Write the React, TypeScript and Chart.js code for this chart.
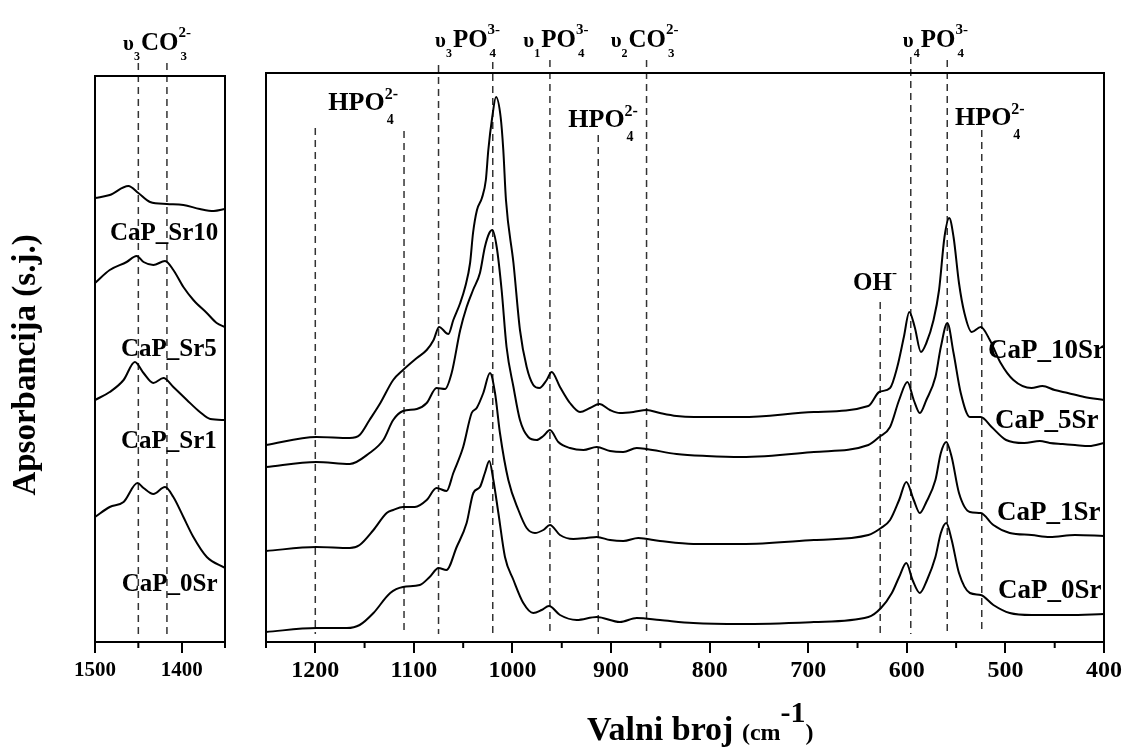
import { useEffect, useRef } from "react";
import { Chart, registerables } from "chart.js";

Chart.register(...registerables);

const FONT = '"Liberation Serif", "Times New Roman", serif';

// ---------- Right panel (1250–400 cm-1) ----------
const RIGHT_TICKS = [1200, 1100, 1000, 900, 800, 700, 600, 500, 400];
const RIGHT_MINOR = [1250, 1150, 1050, 950, 850, 750, 650, 550, 450];

const WN_10SR = [1250, 1199, 1165, 1155, 1145, 1134, 1121, 1111, 1097, 1087, 1080, 1074.5, 1065, 1060, 1053, 1048, 1043, 1040, 1036, 1031, 1027, 1024.5, 1020.5, 1016.7, 1012, 1009.3, 1006.6, 999, 992.4, 985.6, 978.9, 972.8, 965.3, 960.3, 951.8, 941.7, 931.5, 921.4, 911.9, 901.1, 891, 877.4, 863.9, 850.4, 833.5, 815.7, 767.9, 694.3, 639.1, 628, 617, 609.7, 603, 597.5, 592, 585.7, 580.2, 572.9, 567.3, 561.8, 557, 552.6, 547.1, 541.6, 534.2, 525, 515.8, 504.8, 491.9, 473.5, 462.5, 450, 436.7, 420, 400];
const ABS_10SR = [1.97, 2.05, 2.04, 2.07, 2.22, 2.39, 2.62, 2.72, 2.84, 2.92, 3.02, 3.15, 3.08, 3.22, 3.39, 3.55, 3.79, 4.09, 4.32, 4.44, 4.62, 4.92, 5.25, 5.45, 5.25, 4.92, 4.42, 3.79, 3.12, 2.75, 2.57, 2.54, 2.62, 2.70, 2.55, 2.39, 2.30, 2.34, 2.38, 2.32, 2.29, 2.30, 2.32, 2.29, 2.26, 2.25, 2.25, 2.30, 2.36, 2.50, 2.54, 2.75, 3.05, 3.30, 3.15, 2.90, 2.99, 3.22, 3.52, 4.05, 4.24, 4.05, 3.59, 3.29, 3.10, 3.15, 3.02, 2.79, 2.62, 2.54, 2.56, 2.52, 2.49, 2.45, 2.42];

const WN_5SR = [1250, 1199, 1165, 1145, 1131, 1121, 1111, 1097, 1087, 1077, 1068.4, 1061.7, 1053, 1046.5, 1040, 1033, 1028, 1023.5, 1020.4, 1016, 1011, 1006, 999, 992.4, 984, 975.5, 968.7, 962, 953.5, 941.7, 928, 914.6, 901, 887.6, 874, 864, 833.5, 803, 768, 694.3, 639, 628, 617, 607.8, 599.4, 593, 586.8, 580.2, 571, 565.5, 558.9, 552.6, 545.3, 536, 525, 514, 499.3, 481, 465, 455, 442, 429.4, 415, 400];
const ABS_5SR = [1.75, 1.80, 1.78, 1.89, 2.02, 2.22, 2.31, 2.33, 2.39, 2.54, 2.53, 2.69, 3.12, 3.35, 3.52, 3.69, 3.95, 4.09, 4.12, 3.95, 3.52, 2.95, 2.55, 2.22, 2.05, 2.02, 2.06, 2.12, 2.00, 1.94, 1.92, 1.95, 1.91, 1.90, 1.94, 1.93, 1.88, 1.86, 1.85, 1.90, 1.97, 2.05, 2.15, 2.42, 2.60, 2.42, 2.29, 2.42, 2.65, 2.95, 3.19, 2.89, 2.49, 2.25, 2.25, 2.15, 2.02, 1.99, 2.01, 1.99, 1.98, 1.97, 1.96, 1.99];

const WN_1SR = [1250, 1199, 1165, 1155, 1141, 1127.6, 1121, 1111, 1099, 1087, 1077, 1066.8, 1060, 1050, 1041.4, 1036.3, 1029.6, 1022.8, 1017.7, 1012.7, 1004.2, 994, 985.6, 977.2, 968.7, 962, 951.8, 938.3, 924.8, 914.6, 901, 887.6, 872.4, 850.4, 816.6, 768, 694.3, 639, 626.2, 617, 607.8, 600.5, 593, 586.8, 580.2, 571, 565.5, 560, 554.5, 547.1, 536, 525, 512.2, 495.6, 473.5, 455, 429.4, 400];
const ABS_1SR = [0.91, 0.95, 0.94, 0.97, 1.12, 1.29, 1.32, 1.35, 1.35, 1.42, 1.54, 1.51, 1.69, 1.95, 2.29, 2.34, 2.49, 2.69, 2.49, 2.09, 1.62, 1.32, 1.14, 1.09, 1.12, 1.17, 1.07, 1.03, 1.04, 1.05, 1.02, 1.01, 1.04, 1.01, 0.98, 0.98, 1.02, 1.07, 1.14, 1.22, 1.42, 1.60, 1.42, 1.29, 1.40, 1.62, 1.89, 2.00, 1.85, 1.49, 1.30, 1.29, 1.17, 1.09, 1.07, 1.05, 1.07, 1.06];

const WN_0SR = [1250, 1199, 1168, 1155, 1141, 1124, 1111, 1094, 1084, 1075, 1067, 1056.6, 1046.5, 1039.7, 1033, 1028, 1023.5, 1019.4, 1014.3, 1007.6, 999, 989, 978.9, 970.4, 963, 951.8, 934.9, 914.6, 891, 874, 850.4, 816.6, 768, 694.3, 639, 626.2, 615.2, 607.8, 600.5, 594.2, 586.8, 579.5, 571, 565.5, 560, 554.5, 547.1, 536, 525, 512.2, 495.6, 473.5, 436.7, 400];
const ABS_0SR = [0.10, 0.14, 0.14, 0.17, 0.29, 0.49, 0.55, 0.57, 0.65, 0.74, 0.72, 0.95, 1.19, 1.49, 1.55, 1.69, 1.81, 1.62, 1.29, 0.85, 0.62, 0.39, 0.29, 0.32, 0.36, 0.27, 0.22, 0.25, 0.20, 0.24, 0.22, 0.19, 0.18, 0.20, 0.25, 0.34, 0.49, 0.65, 0.79, 0.62, 0.49, 0.62, 0.85, 1.09, 1.19, 1.02, 0.69, 0.49, 0.47, 0.37, 0.29, 0.27, 0.27, 0.28];

const RIGHT_SERIES_NAMES = ["CaP_10Sr", "CaP_5Sr", "CaP_1Sr", "CaP_0Sr"];

// dashed band markers (wavenumber, top of line in absorbance units)
const RIGHT_MARKER_WN = [1200, 1110, 1075, 1020, 962, 913, 864, 627, 596, 559, 524];
const RIGHT_MARKER_TOP = [5.14, 5.11, 5.77, 5.8, 5.82, 5.07, 5.82, 3.4, 5.85, 5.82, 5.12];
const MARKER_BOTTOM = 0.08;

// ---------- Left panel (1500–1350 cm-1) ----------
const LEFT_TICKS = [1500, 1400];
const LEFT_MINOR = [1450, 1350];

const WN_L_SR10 = [1500, 1483, 1461.5, 1450, 1436.5, 1417, 1398, 1379, 1363, 1350];
const ABS_L_SR10 = [4.44, 4.47, 4.56, 4.49, 4.40, 4.38, 4.37, 4.33, 4.31, 4.33];
const WN_L_SR5 = [1500, 1483, 1463.5, 1452, 1444, 1432.7, 1419.2, 1409.6, 1398, 1386.5, 1371, 1359.6, 1350];
const ABS_L_SR5 = [3.59, 3.72, 3.80, 3.86, 3.80, 3.77, 3.81, 3.72, 3.55, 3.42, 3.29, 3.19, 3.15];
const WN_L_SR1 = [1500, 1483, 1467, 1454, 1444, 1432.7, 1421, 1409.6, 1394, 1379, 1367, 1350];
const ABS_L_SR1 = [2.42, 2.50, 2.62, 2.80, 2.69, 2.59, 2.64, 2.55, 2.42, 2.30, 2.23, 2.22];
const WN_L_0SR = [1500, 1483, 1467, 1451, 1444, 1432.7, 1419.2, 1409.6, 1398, 1386.5, 1371, 1350];
const ABS_L_0SR = [1.25, 1.35, 1.40, 1.59, 1.54, 1.48, 1.55, 1.45, 1.25, 1.05, 0.85, 0.74];

const LEFT_SERIES_NAMES = ["CaP_Sr10", "CaP_Sr5", "CaP_Sr1", "CaP_0Sr"];
const LEFT_MARKER_WN = [1450, 1417];
const LEFT_MARKER_TOP = [5.79, 5.79];
const LEFT_MARKER_BOTTOM = 0.05;

// ---------- annotation layout (data units) ----------
type Chem = { pre?: string; preSub?: string; main: string; sup?: string; sub?: string; wn: number; y: number; big?: boolean };

const RIGHT_CHEM: Chem[] = [
  { main: "HPO", sup: "2-", sub: "4", wn: 1186.8, y: 5.32, big: true },
  { pre: "υ", preSub: "3", main: "PO", sup: "3-", sub: "4", wn: 1078.6, y: 5.953 },
  { pre: "υ", preSub: "1", main: "PO", sup: "3-", sub: "4", wn: 989, y: 5.953 },
  { pre: "υ", preSub: "2", main: "CO", sup: "2-", sub: "3", wn: 900.4, y: 5.953 },
  { main: "HPO", sup: "2-", sub: "4", wn: 943.4, y: 5.153, big: true },
  { pre: "υ", preSub: "4", main: "PO", sup: "3-", sub: "4", wn: 604.1, y: 5.953 },
  { main: "HPO", sup: "2-", sub: "4", wn: 551.1, y: 5.17, big: true },
  { main: "OH", sup: "-", wn: 654.6, y: 3.52 },
];
const RIGHT_NAME_WN = [517.6, 510.6, 508.5, 507.5];
const RIGHT_NAME_Y = [2.84, 2.14, 1.22, 0.44];

const LEFT_CHEM: Chem[] = [{ pre: "υ", preSub: "3", main: "CO", sup: "2-", sub: "3", wn: 1467.7, y: 5.92 }];
const LEFT_NAME_WN = [1482.7, 1470, 1470, 1469.2];
const LEFT_NAME_Y = [4.02, 2.863, 1.937, 0.513];

const f = (size: number) => `bold ${size}px ${FONT}`;

function drawChem(ctx: CanvasRenderingContext2D, x: number, y: number, c: Chem) {
  ctx.fillStyle = "#000";
  ctx.textAlign = "left";
  ctx.textBaseline = "alphabetic";
  let cx = x;
  if (c.pre) {
    ctx.font = f(21);
    ctx.fillText(c.pre, cx, y);
    cx += ctx.measureText(c.pre).width;
  }
  if (c.preSub) {
    ctx.font = f(12);
    ctx.fillText(c.preSub, cx, y + 10);
    cx += ctx.measureText(c.preSub).width + 1;
  }
  ctx.font = f(c.big ? 26 : 25);
  ctx.fillText(c.main, cx, y);
  cx += ctx.measureText(c.main).width;
  if (c.sup) {
    ctx.font = f(c.big ? 16 : 15);
    ctx.fillText(c.sup, cx, y - (c.big ? 11 : 13));
  }
  if (c.sub) {
    ctx.font = f(c.big ? 14 : 13);
    ctx.fillText(c.sub, cx + 2, y + (c.big ? 14 : 10));
  }
}

function drawMarkers(chart: any, wns: number[], tops: number[], bottom: number) {
  const { ctx, scales } = chart;
  const x = scales.x, y = scales.y;
  ctx.save();
  ctx.strokeStyle = "#333";
  ctx.lineWidth = 1.5;
  ctx.setLineDash([7, 5]);
  wns.forEach((w, i) => {
    const px = x.getPixelForValue(w);
    ctx.beginPath();
    ctx.moveTo(px, y.getPixelForValue(tops[i]));
    ctx.lineTo(px, y.getPixelForValue(bottom));
    ctx.stroke();
  });
  ctx.restore();
}

function drawFrameAndMinor(chart: any, minor: number[]) {
  const { ctx, chartArea: a, scales } = chart;
  ctx.save();
  ctx.strokeStyle = "#000";
  ctx.lineWidth = 2;
  ctx.setLineDash([]);
  ctx.strokeRect(a.left, a.top, a.right - a.left, a.bottom - a.top);
  minor.forEach((v) => {
    const px = scales.x.getPixelForValue(v);
    ctx.beginPath();
    ctx.moveTo(px, a.bottom);
    ctx.lineTo(px, a.bottom + 6);
    ctx.stroke();
  });
  ctx.restore();
}

function drawNames(chart: any, names: string[], wns: number[], ys: number[], size: number) {
  const { ctx, scales } = chart;
  ctx.save();
  ctx.fillStyle = "#000";
  ctx.font = f(size);
  ctx.textAlign = "left";
  ctx.textBaseline = "alphabetic";
  names.forEach((n, i) => ctx.fillText(n, scales.x.getPixelForValue(wns[i]), scales.y.getPixelForValue(ys[i])));
  ctx.restore();
}

const ds = (wn: number[], a: number[]) => ({
  data: wn.map((x, i) => ({ x, y: a[i] })),
  borderColor: "#000",
  borderWidth: 2,
  pointRadius: 0,
  fill: false,
  cubicInterpolationMode: "monotone" as const,
});

const xScale = (min: number, max: number, ticks: number[], size: number, pad: number) => ({
  type: "linear" as const,
  min,
  max,
  reverse: true,
  afterBuildTicks: (s: any) => {
    s.ticks = ticks.map((v) => ({ value: v }));
  },
  afterFit: (s: any) => {
    s.height = 105;
  },
  ticks: {
    font: { family: FONT, size, weight: "bold" as const },
    color: "#000",
    padding: pad,
    maxRotation: 0,
    autoSkip: false,
    callback: (v: any) => String(v),
  },
  grid: { display: true, drawOnChartArea: false, drawTicks: true, tickLength: 11, color: "#000", lineWidth: 2 },
  border: { display: true, color: "#000", width: 2 },
});

const leftPlugin = {
  id: "leftDecor",
  beforeDatasetsDraw(chart: any) {
    drawMarkers(chart, LEFT_MARKER_WN, LEFT_MARKER_TOP, LEFT_MARKER_BOTTOM);
  },
  afterDraw(chart: any) {
    drawFrameAndMinor(chart, LEFT_MINOR);
    const { ctx, scales } = chart;
    LEFT_CHEM.forEach((c) => drawChem(ctx, scales.x.getPixelForValue(c.wn), scales.y.getPixelForValue(c.y), c));
    drawNames(chart, LEFT_SERIES_NAMES, LEFT_NAME_WN, LEFT_NAME_Y, 25);
    // y-axis title
    ctx.save();
    ctx.translate(35, 365);
    ctx.rotate(-Math.PI / 2);
    ctx.fillStyle = "#000";
    ctx.font = f(33);
    ctx.textAlign = "center";
    ctx.textBaseline = "alphabetic";
    ctx.fillText("Apsorbancija (s.j.)", 0, 0);
    ctx.restore();
  },
};

const rightPlugin = {
  id: "rightDecor",
  beforeDatasetsDraw(chart: any) {
    drawMarkers(chart, RIGHT_MARKER_WN, RIGHT_MARKER_TOP, MARKER_BOTTOM);
  },
  afterDraw(chart: any) {
    drawFrameAndMinor(chart, RIGHT_MINOR);
    const { ctx, scales } = chart;
    RIGHT_CHEM.forEach((c) => drawChem(ctx, scales.x.getPixelForValue(c.wn), scales.y.getPixelForValue(c.y), c));
    drawNames(chart, RIGHT_SERIES_NAMES, RIGHT_NAME_WN, RIGHT_NAME_Y, 27);
    // x-axis title: Valni broj (cm^-1)
    ctx.save();
    ctx.fillStyle = "#000";
    ctx.textAlign = "left";
    ctx.textBaseline = "alphabetic";
    let x = 587;
    const base = 740;
    const seg = (t: string, size: number, dy: number) => {
      ctx.font = f(size);
      ctx.fillText(t, x, base + dy);
      x += ctx.measureText(t).width;
    };
    seg("Valni broj ", 34, 0);
    seg("(cm", 24, 0);
    seg("-1", 30, -18);
    seg(")", 24, 0);
    ctx.restore();
  },
};

export default function App() {
  const leftRef = useRef<HTMLCanvasElement>(null);
  const rightRef = useRef<HTMLCanvasElement>(null);

  useEffect(() => {
    const common = {
      responsive: false,
      animation: false as const,
      devicePixelRatio: 1,
      events: [] as any[],
      plugins: { legend: { display: false }, tooltip: { enabled: false }, title: { display: false } },
    };
    const left = new Chart(leftRef.current!, {
      type: "line",
      data: {
        datasets: [
          ds(WN_L_SR10, ABS_L_SR10),
          ds(WN_L_SR5, ABS_L_SR5),
          ds(WN_L_SR1, ABS_L_SR1),
          ds(WN_L_0SR, ABS_L_0SR),
        ],
      },
      options: {
        ...common,
        layout: { padding: { left: 95, right: 903, top: 76, bottom: 0 } },
        scales: {
          x: xScale(1350, 1500, LEFT_TICKS, 21, 5),
          y: { display: false, min: 0, max: 5.66 },
        },
      } as any,
      plugins: [leftPlugin],
    });
    const right = new Chart(rightRef.current!, {
      type: "line",
      data: {
        datasets: [
          ds(WN_10SR, ABS_10SR),
          ds(WN_5SR, ABS_5SR),
          ds(WN_1SR, ABS_1SR),
          ds(WN_0SR, ABS_0SR),
        ],
      },
      options: {
        ...common,
        layout: { padding: { left: 266, right: 24, top: 73, bottom: 0 } },
        scales: {
          x: xScale(400, 1250, RIGHT_TICKS, 24, 3),
          y: { display: false, min: 0, max: 5.69 },
        },
      } as any,
      plugins: [rightPlugin],
    });
    return () => {
      left.destroy();
      right.destroy();
    };
  }, []);

  return (
    <div style={{ position: "absolute", left: 0, top: 0, width: 1128, height: 747, background: "#fff", overflow: "hidden" }}>
      <canvas ref={leftRef} width={1128} height={747} style={{ position: "absolute", left: 0, top: 0 }} />
      <canvas ref={rightRef} width={1128} height={747} style={{ position: "absolute", left: 0, top: 0 }} />
    </div>
  );
}
